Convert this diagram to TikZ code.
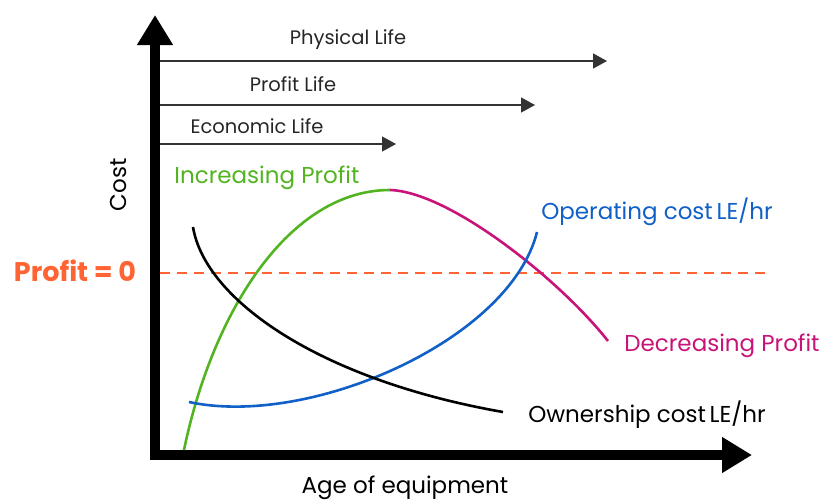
\documentclass[tikz,border=0pt]{standalone}
\usepackage{fontspec}
\setmainfont{Poppins}
\usetikzlibrary{arrows.meta,positioning}

\definecolor{growgreen}{RGB}{82,180,32}
\definecolor{dropred}{RGB}{200,20,120}
\definecolor{opblue}{RGB}{16,96,200}
\definecolor{zeroorange}{RGB}{255,100,50}

\tikzset{
    lifearrow/.style={draw=black!80, line width=1.4pt, -{Triangle[length=14pt,width=15pt]}},
    axisarrow/.style={draw=black, line width=10pt, -{Triangle[length=30pt,width=34pt]}},
    lifelabel/.style={font=\fontsize{19.5}{22}\selectfont, text=black!85},
    curvelabel/.style={font=\fontsize{23}{26}\selectfont},
    curve/.style={line width=2.6pt}
}

\begin{document}
\begin{tikzpicture}[x=1pt, y=-1pt]
    \useasboundingbox (0,0) rectangle (825,501);

    % Axes
    \coordinate (origin) at (155,455);
    \coordinate (ytip) at (155,15);
    \coordinate (xtip) at (752,455);
    \draw[axisarrow] (155,460) -- (ytip);
    \draw[axisarrow] (150,455) -- (xtip);
    \node[curvelabel, rotate=90] (costlbl) at (118,185) {Cost};
    \node[curvelabel] (agelbl) at (405,488) {Age of equipment};

    % Life arrows
    \coordinate (physstart) at (160,61);
    \coordinate (physend) at (607,61);
    \coordinate (profstart) at (160,105);
    \coordinate (profend) at (535,105);
    \coordinate (econstart) at (160,144);
    \coordinate (econend) at (396,144);
    \draw[lifearrow] (physstart) -- (physend);
    \draw[lifearrow] (profstart) -- (profend);
    \draw[lifearrow] (econstart) -- (econend);
    \node[lifelabel] (physlbl) at (348,40) {Physical Life};
    \node[lifelabel] (proflbl) at (293,84) {Profit Life};
    \node[lifelabel] (econlbl) at (257,126) {Economic Life};

    % Profit = 0 line
    \node[text=zeroorange, font=\fontsize{27}{30}\bfseries] (zerolbl) at (75,271) {Profit = 0};
    \coordinate (zerostart) at (160,273);
    \coordinate (zeroend) at (765,273);
    \draw[zeroorange, line width=2pt, dash pattern=on 10pt off 7pt] (zerostart) -- (zeroend);

    % Curves
    \coordinate (growstart) at (184,450);
    \coordinate (peak) at (390,190);
    \coordinate (dropend) at (608,341);
    \coordinate (opstart) at (189,402);
    \coordinate (opend) at (537,232);
    \coordinate (ownstart) at (193,227);
    \coordinate (ownend) at (503,412);
    \draw[curve, growgreen] (growstart) .. controls (213,310) and (290,190) .. (peak);
    \draw[curve, dropred] (peak) .. controls (450,192) and (560,280) .. (dropend);
    \draw[curve, opblue] (opstart) .. controls (310,428) and (510,340) .. (opend);
    \draw[curve, black] (ownstart) .. controls (205,300) and (320,380) .. (ownend);

    % Curve labels
    \node[curvelabel, text=growgreen] (incrlbl) at (267,178) {Increasing Profit};
    \node[curvelabel, text=opblue] (oplbl) at (657,212) {Operating cost\,LE/hr};
    \node[curvelabel, text=dropred] (decrlbl) at (722,346) {Decreasing Profit};
    \node[curvelabel, text=black] (ownlbl) at (647,415) {Ownership cost\,LE/hr};
\end{tikzpicture}
\end{document}
